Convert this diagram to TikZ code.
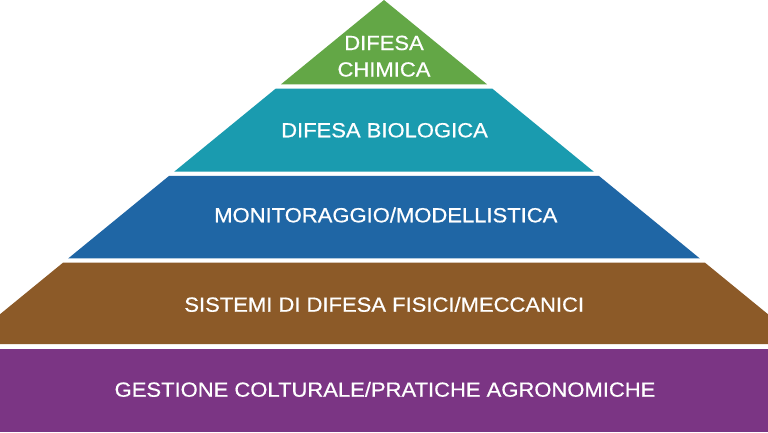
\documentclass[tikz,border=0pt]{standalone}
\usepackage{fontspec}
\setmainfont{Liberation Sans}
\newfontfamily\medfont[FakeBold=0.6]{Liberation Sans}
\definecolor{cgreen}{HTML}{63A746}
\definecolor{cteal}{HTML}{1A9BAF}
\definecolor{cblue}{HTML}{1F66A5}
\definecolor{cbrown}{HTML}{8C5A28}
\definecolor{cpurple}{HTML}{7B3584}
\tikzset{
  lbl/.style={text=white, inner sep=0pt, anchor=base,
    font=\medfont\fontsize{22}{26}\selectfont},
}
\newcommand{\lyr}[1]{\scalebox{1}[0.93]{#1}}
\begin{document}
\begin{tikzpicture}[x=1pt,y=-1pt]
\useasboundingbox (0,0) rectangle (768,432);
\fill[white] (0,0) rectangle (768,432);
\begin{scope}
\clip (0,0) rectangle (768,432);
\def\k{1.222}
% green
\fill[cgreen] (384,0) -- ({384+\k*84.3},84.3) -- ({384-\k*84.3},84.3) -- cycle;
% teal
\fill[cteal] ({384-\k*88.6},88.6) -- ({384+\k*88.6},88.6) -- ({384+\k*171.6},171.6) -- ({384-\k*171.6},171.6) -- cycle;
% blue
\fill[cblue] ({384-\k*175.9},175.9) -- ({384+\k*175.9},175.9) -- ({384+\k*258.4},258.4) -- ({384-\k*258.4},258.4) -- cycle;
% brown
\fill[cbrown] ({384-\k*262.7},262.7) -- ({384+\k*262.7},262.7) -- ({384+\k*344.2},344.2) -- ({384-\k*344.2},344.2) -- cycle;
% purple
\fill[cpurple] (0,348.5) rectangle (768,432);
\end{scope}
\node[lbl] (t1a) at (384,50) {\lyr{DIFESA}};
\node[lbl] (t1b) at (384,76.5) {\lyr{CHIMICA}};
\node[lbl] (t2) at (384.5,137.3) {\lyr{DIFESA BIOLOGICA}};
\node[lbl] (t3) at (385.8,222.3) {\lyr{MONITORAGGIO/MODELLISTICA}};
\node[lbl] (t4) at (384.2,311.7) {\lyr{SISTEMI DI DIFESA FISICI/MECCANICI}};
\node[lbl] (t5) at (385,396.7) {\lyr{GESTIONE COLTURALE/PRATICHE AGRONOMICHE}};
\end{tikzpicture}
\end{document}
